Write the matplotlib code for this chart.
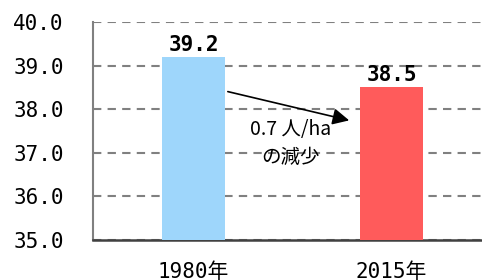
import numpy as np
import matplotlib.pyplot as plt

# density values (people/ha)
years = ['1980年', '2015年']
values = [39.2, 38.5]
bar_colors = ['#9ED6FB', '#FF5B5B']
yticks = [35.0, 36.0, 37.0, 38.0, 39.0, 40.0]
note = '0.7 人/ha\nの減少'

mono = ['DejaVu Sans Mono', 'Noto Sans CJK JP']
jp = ['Noto Sans CJK JP', 'DejaVu Sans']

fig = plt.figure(figsize=(4.82, 2.80), dpi=100)
ax = fig.add_axes([0.193, 0.143, 0.807, 0.778])

x = np.arange(len(years))
bars = ax.bar(x, values, width=0.32, color=bar_colors, zorder=3)

ax.set_ylim(35, 40)
ax.set_xlim(-0.507, 1.457)
ax.set_yticks(yticks)
ax.set_yticklabels(['%.1f' % v for v in yticks], family=mono, fontsize=15)
ax.set_xticks(x)
ax.set_xticklabels(years, family=mono, fontsize=15)
ax.tick_params(axis='both', length=0)
ax.tick_params(axis='y', pad=21)
ax.tick_params(axis='x', pad=16)

ax.yaxis.grid(True, linestyle=(0, (4, 3)), color='#808080', linewidth=1.5, zorder=0)
ax.spines['top'].set_visible(False)
ax.spines['right'].set_visible(False)
ax.spines['left'].set_color('#808080')
ax.spines['left'].set_linewidth(1.5)
ax.spines['bottom'].set_color('#404040')
ax.spines['bottom'].set_linewidth(1.8)

for xi, v in zip(x, values):
    ax.text(xi, v + 0.05, '%.1f' % v, ha='center', va='bottom',
            family=mono, fontsize=15, fontweight='bold', zorder=4)

# arrow showing the decrease
ax.annotate('', xy=(0.80, 37.73), xytext=(0.16, 38.42),
            arrowprops=dict(arrowstyle='-|>', color='black', lw=1.2,
                            mutation_scale=25), zorder=5)
ax.text(0.49, 37.22, note, ha='center', va='center', family=jp,
        fontsize=14, linespacing=1.45, zorder=5)

fig.savefig('out.png', dpi=100)
